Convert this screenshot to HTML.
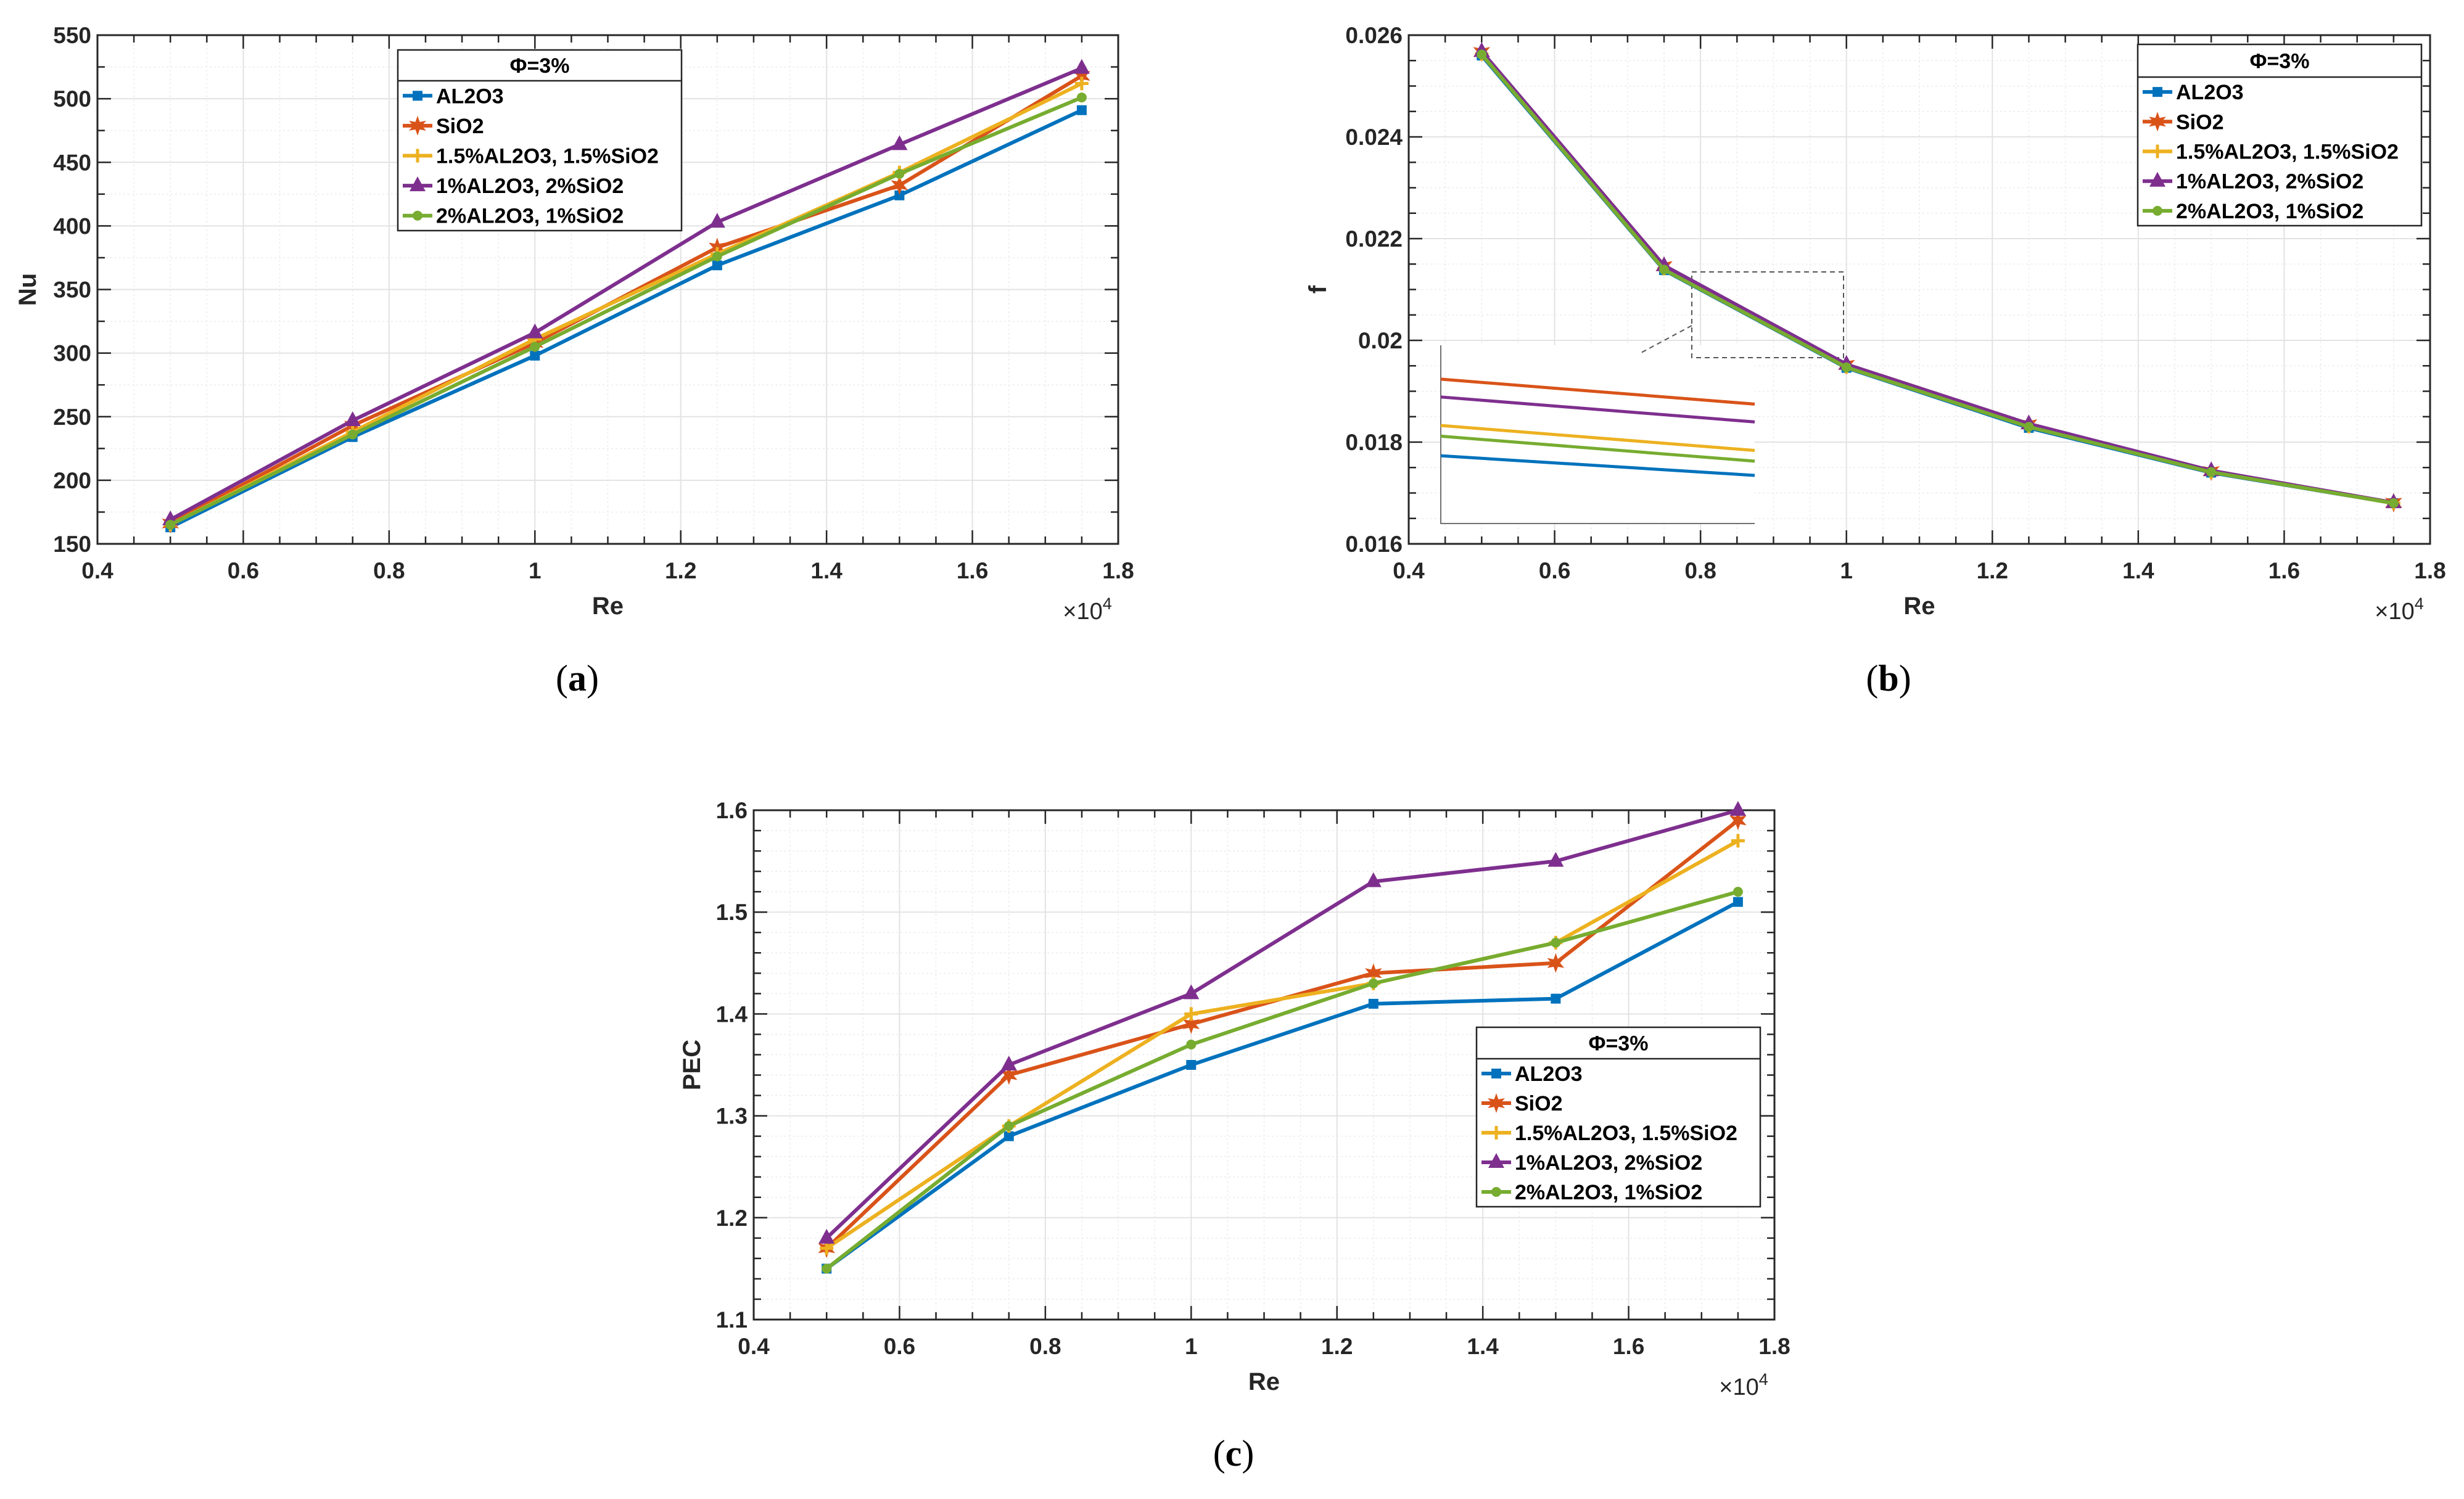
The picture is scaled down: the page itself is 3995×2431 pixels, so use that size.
<!DOCTYPE html>
<html><head><meta charset="utf-8"><style>
body{margin:0;background:#fff}
svg{display:block}
text{font-family:"Liberation Sans",Arial,sans-serif}
text.cap{font-family:"Liberation Serif",serif}
</style></head><body>
<svg id="fig" width="3995" height="2431" xmlns="http://www.w3.org/2000/svg"></svg>
<script>
const reValues=[5000,7500,10000,12500,15000,17500];
const seriesNames=["AL2O3","SiO2","1.5%AL2O3, 1.5%SiO2","1%AL2O3, 2%SiO2","2%AL2O3, 1%SiO2"];
const nuAl=[163,234,298,369,424,491];
const nuSi=[166,243,308,383,432,518];
const nuMix15=[165,238,311,378,442,512];
const nuMix12=[169,247,316,403,464,524];
const nuMix21=[165,236,305,376,441,501];
const fAl=[0.02560,0.02138,0.01946,0.01828,0.01740,0.01680];
const fSi=[0.02567,0.02146,0.01952,0.01835,0.01743,0.01681];
const fMix15=[0.02563,0.02141,0.01948,0.01831,0.01741,0.01680];
const fMix12=[0.02568,0.02147,0.01953,0.01836,0.01744,0.01681];
const fMix21=[0.02562,0.02139,0.01947,0.01830,0.01741,0.01680];
const pecAl=[1.15,1.28,1.35,1.41,1.415,1.51];
const pecSi=[1.17,1.34,1.39,1.44,1.45,1.59];
const pecMix15=[1.17,1.29,1.40,1.43,1.47,1.57];
const pecMix12=[1.18,1.35,1.42,1.53,1.55,1.60];
const pecMix21=[1.15,1.29,1.37,1.43,1.47,1.52];
const xTicks=[0.4,0.6,0.8,1,1.2,1.4,1.6,1.8];
const nuTicks=[150,200,250,300,350,400,450,500,550];
const fTicks=["0.016","0.018","0.02","0.022","0.024","0.026"];
const pecTicks=["1.1","1.2","1.3","1.4","1.5","1.6"];
// inset (zoomed) relative levels 0..1 from top, start and end, per series
const insetStart=[0.62,0.19,0.45,0.29,0.51];
const insetEnd=[0.73,0.33,0.59,0.43,0.65];

const colors=["#0072BD","#D95319","#EDB120","#7E2F8E","#77AC30"];
const NS="http://www.w3.org/2000/svg";
const svg=document.getElementById('fig');
function el(tag,attrs,parent){const e=document.createElementNS(NS,tag);for(const k in attrs)e.setAttribute(k,attrs[k]);(parent||svg).appendChild(e);return e;}

function marker(g,i,x,y){
  const c=colors[i];let m;
  if(i===0){m=el('rect',{x:x-8,y:y-8,width:16,height:16,fill:c},g);}
  else if(i===1){let p=[];for(let k=0;k<12;k++){const r=k%2?7:16;const a=-Math.PI/2+k*Math.PI/6;p.push((x+r*Math.cos(a)).toFixed(1)+','+(y+r*Math.sin(a)).toFixed(1));}m=el('polygon',{points:p.join(' '),fill:c},g);}
  else if(i===2){m=el('path',{d:`M${x-11},${y}H${x+11}M${x},${y-11}V${y+11}`,stroke:c,'stroke-width':5},g);}
  else if(i===3){m=el('polygon',{points:`${x},${y-15} ${x+13},${y+9} ${x-13},${y+9}`,fill:c},g);}
  else {m=el('circle',{cx:x,cy:y,r:8,fill:c},g);}
  
  
}

function plot(cfg){
  const g=el('g',{});
  
  
  const {L,R,T,B,ymin,ymax}=cfg;
  const sx=v=>L+(v-4000)/14000*(R-L);
  const sy=v=>B-(v-ymin)/(ymax-ymin)*(B-T);
  el('rect',{x:L,y:T,width:R-L,height:B-T,fill:'#fff'},g);
  for(let v=4000;v<=18000+1;v+=500){const x=sx(v);el('line',{x1:x,x2:x,y1:T,y2:B,stroke:'#ececec','stroke-width':1.5,'stroke-dasharray':'3,4'},g);}
  for(let v=ymin;v<=ymax+cfg.minor/2;v+=cfg.minor){const y=sy(v);el('line',{x1:L,x2:R,y1:y,y2:y,stroke:'#ececec','stroke-width':1.5,'stroke-dasharray':'3,4'},g);}
  xTicks.forEach(t=>{const x=sx(t*1e4);el('line',{x1:x,x2:x,y1:T,y2:B,stroke:'#e3e3e3','stroke-width':2},g);});
  cfg.ticks.forEach(t=>{const y=sy(+t);el('line',{x1:L,x2:R,y1:y,y2:y,stroke:'#e3e3e3','stroke-width':2},g);});
  for(let v=4000;v<=18000+1;v+=500){const x=sx(v);const maj=(v%2000===0);const len=maj?22:12;
    el('line',{x1:x,x2:x,y1:B,y2:B-len,stroke:'#262626','stroke-width':2.5},g);el('line',{x1:x,x2:x,y1:T,y2:T+len,stroke:'#262626','stroke-width':2.5},g);}
  const majStep=(+cfg.ticks[1])-(+cfg.ticks[0]);
  for(let v=ymin;v<=ymax+cfg.minor/2;v+=cfg.minor){const y=sy(v);const r=(v-ymin)/majStep;const maj=Math.abs(r-Math.round(r))<1e-6;const len=maj?22:12;
    el('line',{x1:L,x2:L+len,y1:y,y2:y,stroke:'#262626','stroke-width':2.5},g);el('line',{x1:R,x2:R-len,y1:y,y2:y,stroke:'#262626','stroke-width':2.5},g);}
  el('rect',{x:L,y:T,width:R-L,height:B-T,fill:'none',stroke:'#262626','stroke-width':3},g);
  xTicks.forEach(t=>{const tx=el('text',{x:sx(t*1e4),y:B+56,'text-anchor':'middle','font-size':37,'font-weight':'bold',fill:'#262626'},g);tx.textContent=String(t);
    });
  cfg.ticks.forEach(t=>{const tx=el('text',{x:L-10,y:sy(+t)+13,'text-anchor':'end','font-size':37,'font-weight':'bold',fill:'#262626'},g);tx.textContent=String(t);
    });
  const xl=el('text',{x:(L+R)/2,y:B+114,'text-anchor':'middle','font-size':40,'font-weight':'bold',fill:'#262626'},g);xl.textContent='Re';
  
  const ex=el('text',{x:R-50,y:B+122,'text-anchor':'middle','font-size':38,fill:'#262626'},g);ex.innerHTML='×10<tspan dy="-16" font-size="27">4</tspan>';
  
  const yl=el('text',{x:0,y:0,transform:`translate(${cfg.ylx},${(T+B)/2}) rotate(-90)`,'text-anchor':'middle','font-size':40,'font-weight':'bold',fill:'#262626'},g);yl.textContent=cfg.ylabel;
  
  if(cfg.inset)cfg.inset(g,sx,sy);
  cfg.series.forEach((arr,i)=>{
    const pts=arr.map((v,k)=>sx(reValues[k]).toFixed(1)+','+sy(v).toFixed(1)).join(' ');
    const pl=el('polyline',{points:pts,fill:'none',stroke:colors[i],'stroke-width':6,'stroke-linejoin':'round'},g);
    
    
    arr.forEach((v,k)=>marker(g,i,sx(reValues[k]),sy(v)));
  });
  const [lx1,ly1,lx2,ly2,ldiv]=cfg.legend;
  const lg=el('g',{},g);
  
  
  el('rect',{x:lx1,y:ly1,width:lx2-lx1,height:ly2-ly1,fill:'#fff',stroke:'#262626','stroke-width':2.5},lg);
  el('line',{x1:lx1,x2:lx2,y1:ldiv,y2:ldiv,stroke:'#262626','stroke-width':2.5},lg);
  const tt=el('text',{x:(lx1+lx2)/2,y:(ly1+ldiv)/2+12,'text-anchor':'middle','font-size':34,'font-weight':'bold',fill:'#000'},lg);tt.textContent='Φ=3%';
  
  const step=(ly2-ldiv)/5;
  seriesNames.forEach((n,i)=>{
    const y=ldiv+step*(i+0.5);
    el('line',{x1:lx1+8,x2:lx1+56,y1:y,y2:y,stroke:colors[i],'stroke-width':6},lg);
    marker(lg,i,lx1+32,y);
    const t=el('text',{x:lx1+62,y:y+12,'font-size':34,'font-weight':'bold',fill:'#000',textLength:0},lg);t.textContent=n;
    t.removeAttribute('textLength');
    
  });
  const cap=el('text',{x:cfg.capx,y:cfg.capy,'text-anchor':'middle','font-size':60,'class':'cap',fill:'#000'},svg);
  cap.innerHTML='(<tspan font-weight="bold">'+cfg.cap+'</tspan>)';
  
}

plot({name:'nu-chart',L:158,R:1813,T:57,B:882,ymin:150,ymax:550,minor:25,ticks:nuTicks,ylabel:'Nu',ylx:58,
  series:[nuAl,nuSi,nuMix15,nuMix12,nuMix21],legend:[645,81,1105,374,131],cap:'a',capx:936,capy:1120});

plot({name:'friction-chart',L:2284,R:3940,T:57,B:882,ymin:0.016,ymax:0.026,minor:0.0005,ticks:fTicks,ylabel:'f',ylx:2150,
  series:[fAl,fSi,fMix15,fMix12,fMix21],legend:[3466,72,3926,366,125],cap:'b',capx:3062,capy:1120,
  inset:(g,sx,sy)=>{
    const ig=el('g',{},g);
    
    
    const iL=2336,iR=2845,iT=560,iB=849;
    el('rect',{x:iL,y:iT,width:iR-iL,height:iB-iT,fill:'#fff'},ig);
    el('path',{d:`M${iL},${iT}V${iB}H${iR}`,fill:'none',stroke:'#444','stroke-width':1.5},ig);
    insetStart.forEach((s,i)=>{
      const ln=el('line',{x1:iL,x2:iR,y1:iT+s*(iB-iT),y2:iT+insetEnd[i]*(iB-iT),stroke:colors[i],'stroke-width':5},ig);
      
      
    });
    el('rect',{x:2743,y:441,width:246,height:139,fill:'none',stroke:'#555','stroke-width':2,'stroke-dasharray':'8,6'},ig);
    el('line',{x1:2743,y1:528,x2:2659,y2:573,stroke:'#555','stroke-width':2,'stroke-dasharray':'8,6'},ig);
  }});

plot({name:'pec-chart',L:1222,R:2877,T:1314,B:2140,ymin:1.1,ymax:1.6,minor:0.02,ticks:pecTicks,ylabel:'PEC',ylx:1135,
  series:[pecAl,pecSi,pecMix15,pecMix12,pecMix21],legend:[2394,1666,2854,1957,1717],cap:'c',capx:2000,capy:2377});
</script>
</body></html>
